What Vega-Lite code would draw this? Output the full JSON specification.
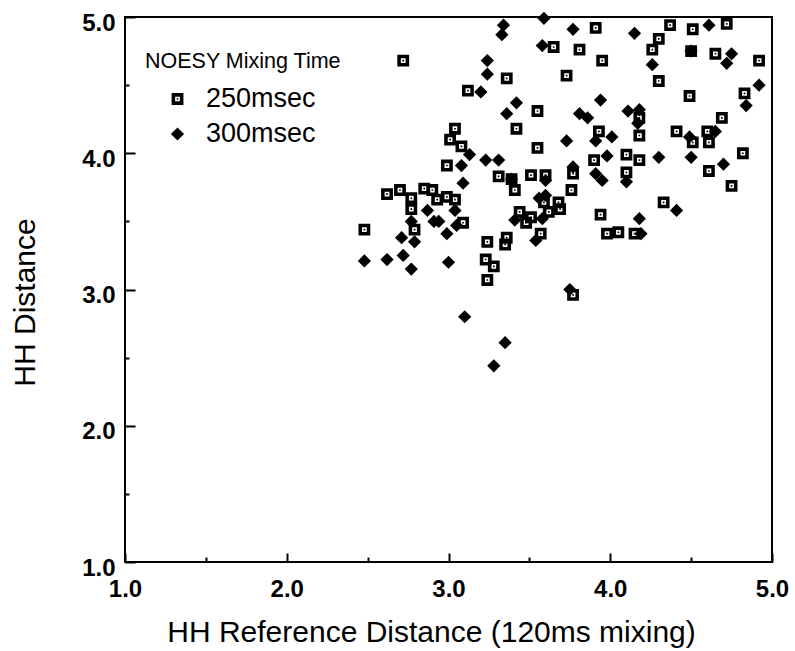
{
  "$schema": "https://vega.github.io/schema/vega-lite/v6.json",
  "width": 647,
  "height": 545,
  "autosize": {"type": "none"},
  "padding": {"left": 125, "top": 17, "right": 23, "bottom": 89},
  "background": "white",
  "config": {
    "font": "Liberation Sans",
    "view": {"stroke": "black", "strokeWidth": 2},
    "axis": {"grid": false, "domain": false, "tickColor": "black", "labelColor": "black", "titleColor": "black", "tickWidth": 2}
  },
  "data": {
    "values": [
      {"x": 2.72, "y": 4.68, "t": "250msec"},
      {"x": 3.36, "y": 4.55, "t": "250msec"},
      {"x": 3.65, "y": 4.78, "t": "250msec"},
      {"x": 3.12, "y": 4.46, "t": "250msec"},
      {"x": 3.55, "y": 4.31, "t": "250msec"},
      {"x": 3.04, "y": 4.18, "t": "250msec"},
      {"x": 3.01, "y": 4.10, "t": "250msec"},
      {"x": 3.42, "y": 4.18, "t": "250msec"},
      {"x": 3.08, "y": 4.05, "t": "250msec"},
      {"x": 3.55, "y": 4.04, "t": "250msec"},
      {"x": 2.99, "y": 3.91, "t": "250msec"},
      {"x": 3.31, "y": 3.83, "t": "250msec"},
      {"x": 3.51, "y": 3.84, "t": "250msec"},
      {"x": 3.60, "y": 3.84, "t": "250msec"},
      {"x": 3.41, "y": 3.73, "t": "250msec"},
      {"x": 3.39, "y": 3.81, "t": "250msec"},
      {"x": 2.62, "y": 3.70, "t": "250msec"},
      {"x": 2.70, "y": 3.73, "t": "250msec"},
      {"x": 2.77, "y": 3.67, "t": "250msec"},
      {"x": 2.77, "y": 3.59, "t": "250msec"},
      {"x": 2.85, "y": 3.74, "t": "250msec"},
      {"x": 2.90, "y": 3.73, "t": "250msec"},
      {"x": 2.93, "y": 3.66, "t": "250msec"},
      {"x": 2.99, "y": 3.68, "t": "250msec"},
      {"x": 3.04, "y": 3.66, "t": "250msec"},
      {"x": 3.09, "y": 3.49, "t": "250msec"},
      {"x": 2.79, "y": 3.44, "t": "250msec"},
      {"x": 2.48, "y": 3.44, "t": "250msec"},
      {"x": 3.24, "y": 3.35, "t": "250msec"},
      {"x": 3.36, "y": 3.38, "t": "250msec"},
      {"x": 3.35, "y": 3.33, "t": "250msec"},
      {"x": 3.23, "y": 3.22, "t": "250msec"},
      {"x": 3.28, "y": 3.17, "t": "250msec"},
      {"x": 3.24, "y": 3.07, "t": "250msec"},
      {"x": 3.59, "y": 3.64, "t": "250msec"},
      {"x": 3.68, "y": 3.64, "t": "250msec"},
      {"x": 3.62, "y": 3.57, "t": "250msec"},
      {"x": 3.69, "y": 3.59, "t": "250msec"},
      {"x": 3.44, "y": 3.57, "t": "250msec"},
      {"x": 3.51, "y": 3.53, "t": "250msec"},
      {"x": 3.48, "y": 3.49, "t": "250msec"},
      {"x": 3.57, "y": 3.41, "t": "250msec"},
      {"x": 3.76, "y": 3.73, "t": "250msec"},
      {"x": 3.77, "y": 3.85, "t": "250msec"},
      {"x": 3.91, "y": 4.92, "t": "250msec"},
      {"x": 4.37, "y": 4.94, "t": "250msec"},
      {"x": 4.51, "y": 4.91, "t": "250msec"},
      {"x": 4.72, "y": 4.95, "t": "250msec"},
      {"x": 3.81, "y": 4.76, "t": "250msec"},
      {"x": 3.95, "y": 4.68, "t": "250msec"},
      {"x": 4.30, "y": 4.84, "t": "250msec"},
      {"x": 4.26, "y": 4.76, "t": "250msec"},
      {"x": 4.50, "y": 4.75, "t": "250msec"},
      {"x": 4.65, "y": 4.73, "t": "250msec"},
      {"x": 4.92, "y": 4.68, "t": "250msec"},
      {"x": 3.73, "y": 4.57, "t": "250msec"},
      {"x": 4.30, "y": 4.53, "t": "250msec"},
      {"x": 4.83, "y": 4.44, "t": "250msec"},
      {"x": 4.49, "y": 4.42, "t": "250msec"},
      {"x": 4.18, "y": 4.26, "t": "250msec"},
      {"x": 4.69, "y": 4.26, "t": "250msec"},
      {"x": 3.93, "y": 4.16, "t": "250msec"},
      {"x": 4.18, "y": 4.13, "t": "250msec"},
      {"x": 4.41, "y": 4.16, "t": "250msec"},
      {"x": 4.60, "y": 4.16, "t": "250msec"},
      {"x": 4.51, "y": 4.08, "t": "250msec"},
      {"x": 4.61, "y": 4.08, "t": "250msec"},
      {"x": 4.82, "y": 4.00, "t": "250msec"},
      {"x": 3.90, "y": 3.95, "t": "250msec"},
      {"x": 4.10, "y": 3.99, "t": "250msec"},
      {"x": 4.18, "y": 3.95, "t": "250msec"},
      {"x": 4.61, "y": 3.87, "t": "250msec"},
      {"x": 4.10, "y": 3.86, "t": "250msec"},
      {"x": 4.75, "y": 3.76, "t": "250msec"},
      {"x": 3.94, "y": 3.55, "t": "250msec"},
      {"x": 4.33, "y": 3.64, "t": "250msec"},
      {"x": 3.98, "y": 3.41, "t": "250msec"},
      {"x": 4.05, "y": 3.42, "t": "250msec"},
      {"x": 4.15, "y": 3.41, "t": "250msec"},
      {"x": 3.77, "y": 2.96, "t": "250msec"},
      {"x": 3.59, "y": 4.99, "t": "300msec"},
      {"x": 3.34, "y": 4.94, "t": "300msec"},
      {"x": 3.33, "y": 4.87, "t": "300msec"},
      {"x": 3.58, "y": 4.79, "t": "300msec"},
      {"x": 3.24, "y": 4.68, "t": "300msec"},
      {"x": 3.24, "y": 4.58, "t": "300msec"},
      {"x": 3.20, "y": 4.45, "t": "300msec"},
      {"x": 3.42, "y": 4.37, "t": "300msec"},
      {"x": 3.36, "y": 4.29, "t": "300msec"},
      {"x": 3.13, "y": 3.99, "t": "300msec"},
      {"x": 3.23, "y": 3.95, "t": "300msec"},
      {"x": 3.31, "y": 3.95, "t": "300msec"},
      {"x": 3.08, "y": 3.91, "t": "300msec"},
      {"x": 3.39, "y": 3.81, "t": "300msec"},
      {"x": 3.60, "y": 3.80, "t": "300msec"},
      {"x": 3.09, "y": 3.78, "t": "300msec"},
      {"x": 3.56, "y": 3.67, "t": "300msec"},
      {"x": 3.60, "y": 3.69, "t": "300msec"},
      {"x": 3.41, "y": 3.51, "t": "300msec"},
      {"x": 3.58, "y": 3.52, "t": "300msec"},
      {"x": 3.54, "y": 3.36, "t": "300msec"},
      {"x": 2.87, "y": 3.58, "t": "300msec"},
      {"x": 3.04, "y": 3.58, "t": "300msec"},
      {"x": 2.77, "y": 3.50, "t": "300msec"},
      {"x": 2.91, "y": 3.50, "t": "300msec"},
      {"x": 2.94, "y": 3.50, "t": "300msec"},
      {"x": 3.05, "y": 3.47, "t": "300msec"},
      {"x": 2.99, "y": 3.41, "t": "300msec"},
      {"x": 2.71, "y": 3.38, "t": "300msec"},
      {"x": 2.79, "y": 3.35, "t": "300msec"},
      {"x": 2.48, "y": 3.21, "t": "300msec"},
      {"x": 2.62, "y": 3.22, "t": "300msec"},
      {"x": 2.72, "y": 3.25, "t": "300msec"},
      {"x": 2.77, "y": 3.15, "t": "300msec"},
      {"x": 3.00, "y": 3.20, "t": "300msec"},
      {"x": 3.10, "y": 2.80, "t": "300msec"},
      {"x": 3.35, "y": 2.61, "t": "300msec"},
      {"x": 3.28, "y": 2.44, "t": "300msec"},
      {"x": 3.77, "y": 4.91, "t": "300msec"},
      {"x": 4.15, "y": 4.88, "t": "300msec"},
      {"x": 4.61, "y": 4.94, "t": "300msec"},
      {"x": 4.50, "y": 4.75, "t": "300msec"},
      {"x": 4.75, "y": 4.73, "t": "300msec"},
      {"x": 4.72, "y": 4.66, "t": "300msec"},
      {"x": 4.26, "y": 4.65, "t": "300msec"},
      {"x": 4.92, "y": 4.50, "t": "300msec"},
      {"x": 4.84, "y": 4.35, "t": "300msec"},
      {"x": 3.94, "y": 4.39, "t": "300msec"},
      {"x": 3.81, "y": 4.29, "t": "300msec"},
      {"x": 3.86, "y": 4.26, "t": "300msec"},
      {"x": 4.11, "y": 4.31, "t": "300msec"},
      {"x": 4.18, "y": 4.32, "t": "300msec"},
      {"x": 4.17, "y": 4.22, "t": "300msec"},
      {"x": 4.01, "y": 4.12, "t": "300msec"},
      {"x": 3.91, "y": 4.09, "t": "300msec"},
      {"x": 3.73, "y": 4.09, "t": "300msec"},
      {"x": 4.65, "y": 4.16, "t": "300msec"},
      {"x": 4.49, "y": 4.12, "t": "300msec"},
      {"x": 3.98, "y": 3.98, "t": "300msec"},
      {"x": 4.30, "y": 3.97, "t": "300msec"},
      {"x": 4.50, "y": 3.97, "t": "300msec"},
      {"x": 4.70, "y": 3.92, "t": "300msec"},
      {"x": 3.77, "y": 3.90, "t": "300msec"},
      {"x": 3.91, "y": 3.85, "t": "300msec"},
      {"x": 3.95, "y": 3.80, "t": "300msec"},
      {"x": 4.10, "y": 3.79, "t": "300msec"},
      {"x": 4.41, "y": 3.58, "t": "300msec"},
      {"x": 4.18, "y": 3.52, "t": "300msec"},
      {"x": 4.19, "y": 3.41, "t": "300msec"},
      {"x": 3.75, "y": 3.00, "t": "300msec"}
    ]
  },
  "mark": {"type": "point", "filled": true, "color": "black", "opacity": 1, "strokeWidth": 0},
  "encoding": {
    "x": {
      "field": "x", "type": "quantitative",
      "scale": {"domain": [1, 5], "nice": false, "zero": false},
      "axis": {
        "values": [1, 1.5, 2, 2.5, 3, 3.5, 4, 4.5, 5],
        "labelExpr": "datum.value % 1 == 0 ? format(datum.value, '.1f') : ''",
        "tickSize": {"condition": {"test": "datum.value % 1 != 0", "value": -5}, "value": -9},
        "labelPadding": 24,
        "labelFontSize": 24,
        "labelFontWeight": "bold",
        "labelFlush": false,
        "labelOverlap": false,
        "title": "HH Reference Distance (120ms mixing)",
        "titleFontSize": 30,
        "titleFontWeight": "normal",
        "titleX": 306,
        "titleY": 79,
        "titleBaseline": "alphabetic",
        "titleAlign": "center"
      }
    },
    "y": {
      "field": "y", "type": "quantitative",
      "scale": {"domain": [1, 5], "nice": false, "zero": false},
      "axis": {
        "values": [1, 1.5, 2, 2.5, 3, 3.5, 4, 4.5, 5],
        "labelExpr": "datum.value % 1 == 0 ? format(datum.value, '.1f') : ''",
        "tickSize": {"condition": {"test": "datum.value % 1 != 0", "value": -4}, "value": -10},
        "labelPadding": 20,
        "labelOffset": 6,
        "labelFontSize": 24,
        "labelFontWeight": "bold",
        "labelFlush": false,
        "labelOverlap": false,
        "title": "HH Distance",
        "titleFontSize": 30,
        "titleFontWeight": "normal",
        "titleAngle": -90,
        "titleX": -100,
        "titleY": 285,
        "titleAlign": "center",
        "titleBaseline": "middle"
      }
    },
    "shape": {
      "field": "t", "type": "nominal",
      "scale": {"domain": ["250msec", "300msec"], "range": ["M-1,-1H1V1H-1Z M-0.4,-0.4V0.4H0.4V-0.4Z M-0.14,-0.14H0.14V0.14H-0.14Z", "diamond"]},
      "legend": {
        "orient": "none",
        "legendX": 20,
        "legendY": 34,
        "title": "NOESY Mixing Time",
        "titleFontSize": 21.5,
        "titleFontWeight": "normal",
        "titleColor": "black",
        "titleLimit": 0,
        "titlePadding": 13,
        "labelFontSize": 27,
        "labelColor": "black",
        "labelLimit": 0,
        "symbolOffset": 19,
        "labelOffset": 15,
        "rowPadding": 7,
        "padding": 0,
        "symbolFillColor": "black",
        "symbolStrokeWidth": 0
      }
    },
    "size": {
      "field": "t", "type": "nominal",
      "scale": {"domain": ["250msec", "300msec"], "range": [140, 175]}
    }
  }
}
